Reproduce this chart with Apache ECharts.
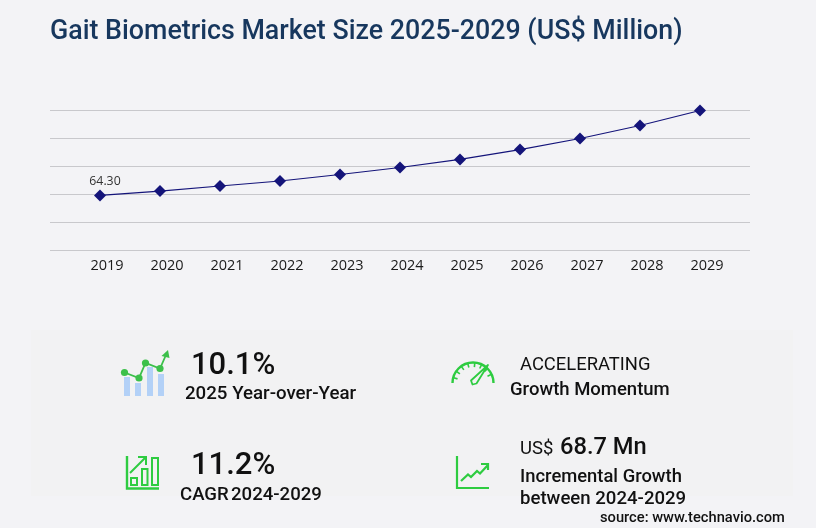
<!DOCTYPE html>
<html><head><meta charset="utf-8">
<style>html,body{margin:0;padding:0;background:#f3f3f6}#c{width:816px;height:528px}</style>
<script src="https://cdn.jsdelivr.net/npm/echarts@6/dist/echarts.min.js"></script>
</head><body><div id="c"></div>
<script>
const categories = ['2019','2020','2021','2022','2023','2024','2025','2026','2027','2028','2029'];
const marketSize = [64.30,69.5,75.4,81.3,89.0,97.2,106.7,118.4,131.4,146.7,164.4];
const firstLabel = '64.30';
const yMin = 0, yMax = 165, yStep = 33;

const GREEN = '#2ecc40', GREEN2 = '#3cc04a', BAR = '#b3d1f7', INK = '#111111';
const f = 'Roboto, sans-serif';
const txt = (text, x, y, size, weight, color, extra) => ({type:'text', x, y, silent:true,
  style:Object.assign({text, fontFamily:f, fontSize:size, fontWeight:weight||400, fill:color||INK, textVerticalAlign:'middle', textBaseline:'middle'}, extra||{})});
const stroke = (pts, w, c) => ({type:'polyline', silent:true, shape:{points:pts}, style:{stroke:c||GREEN, lineWidth:w||2, fill:null, lineJoin:'miter'}});
const rectS = (x,y,w,h,lw) => ({type:'rect', silent:true, shape:{x,y,width:w,height:h}, style:{stroke:GREEN, lineWidth:lw||2, fill:null}});
const rectF = (x,y,w,h,c) => ({type:'rect', silent:true, shape:{x,y,width:w,height:h}, style:{fill:c}});
const dot = (x,y,r,c) => ({type:'circle', silent:true, shape:{cx:x,cy:y,r}, style:{fill:c}});

const gaugeTicks = [];
[165,145,125,105,85,65,45,25].forEach(a => {
  const t = a*Math.PI/180, cx=473, cy=383;
  gaugeTicks.push(stroke([[cx+Math.cos(t)*20,cy-Math.sin(t)*20],[cx+Math.cos(t)*16,cy-Math.sin(t)*16]],1.6));
});

const graphics = [
  rectF(31,330,762,166,'#f2f2f3'),
  txt('Gait Biometrics Market Size 2025-2029 (US$ Million)',50,32,26.8,500,'#17375e'),
  // icon 1
  rectF(124,377,6,19,BAR), rectF(135,383,6,13,BAR), rectF(147,367,6,29,BAR), rectF(158,374,6,22,BAR),
  stroke([[124.5,372.5],[139,378],[145.5,363],[160,368.5],[165.5,356]],1.8,GREEN2),
  dot(124.5,372.5,3.6,GREEN2),dot(139,378,3.6,GREEN2),dot(145.5,363,3.6,GREEN2),dot(160,368.5,3.6,GREEN2),
  {type:'polygon',silent:true,shape:{points:[[168,350],[169.5,358],[161.5,356]]},style:{fill:GREEN2}},
  txt('10.1%',191,366,31,500),
  txt('2025 Year-over-Year',185,394.5,18.7,500),
  // icon 2
  stroke([[127,456],[127,488.5],[159,488.5]],2.4),
  rectS(131,478,6,7,2), rectS(142,469,5.5,16,2), rectS(152,458,6,27,2),
  stroke([[130,473],[145,458]],2), stroke([[138,457],[146,457],[146,465]],2),
  txt('11.2%',191,466,31,500),
  txt('CAGR',180,495,18.6,500), txt('2024-2029',231,495,18.6,500),
  // gauge
  {type:'arc',silent:true,shape:{cx:473,cy:383,r:20.5,startAngle:Math.PI,endAngle:Math.PI*2,clockwise:true},style:{stroke:GREEN,lineWidth:2.4,fill:null}},
  ...gaugeTicks,
  {type:'polygon',silent:true,shape:{points:[[488,365],[476.5,383.5],[472.5,384.5],[471,380.5]]},style:{fill:'none',stroke:GREEN,lineWidth:1.8,lineJoin:'round'}},
  txt('ACCELERATING',520,365.5,18.4,400),
  txt('Growth Momentum',510,390,18.5,500),
  // icon 4
  stroke([[457,456],[457,488],[489,488]],2.2),
  stroke([[461,481],[468,474.5],[471,477],[477,471],[480,473.5],[488,465]],2.2),
  stroke([[481,464],[488,464],[488,470]],2.2),
  txt('US$',520,449.5,18.5,400),
  txt('68.7 Mn',560,448.5,23.7,500),
  txt('Incremental Growth',520,477,18.4,500),
  txt('between 2024-2029',520,499,18.6,500),
  txt('source: www.technavio.com',600,518,14.7,500)
];

const chart = echarts.init(document.getElementById('c'), null, {renderer:'canvas'});
chart.setOption({
  backgroundColor:'#f3f3f6',
  animation:false,
  grid:[
    {left:50, right:66, top:110, height:140},
    {left:70, right:86, top:110, height:140}
  ],
  xAxis:[
    {type:'category', gridIndex:0, data:categories, show:false},
    {type:'category', gridIndex:1, data:categories, boundaryGap:true,
     axisLine:{show:false}, axisTick:{show:false},
     axisLabel:{interval:0, margin:7, padding:[1,0,0,14], color:'#1a1a1a', fontSize:14.5, fontFamily:'"Open Sans", sans-serif'}}
  ],
  yAxis:[
    {type:'value', gridIndex:0, min:yMin, max:yMax, interval:yStep,
     axisLine:{show:false}, axisTick:{show:false}, axisLabel:{show:false},
     splitLine:{show:true, lineStyle:{color:'#c8c8cc', width:1}}},
    {type:'value', gridIndex:1, min:yMin, max:yMax, interval:yStep, show:false, splitLine:{show:false}}
  ],
  series:[{
    type:'line', xAxisIndex:1, yAxisIndex:1, data:marketSize,
    symbol:'diamond', symbolSize:12, showSymbol:true,
    lineStyle:{color:'#14147a', width:1.2},
    itemStyle:{color:'#14147a'},
    label:{show:true, position:'top', distance:2, offset:[5,0], fontSize:12.3, color:'#333', fontFamily:'"Open Sans", sans-serif',
      formatter:p => p.dataIndex===0 ? firstLabel : ''},
    z:5
  }],
  graphic:graphics
});
</script></body></html>
